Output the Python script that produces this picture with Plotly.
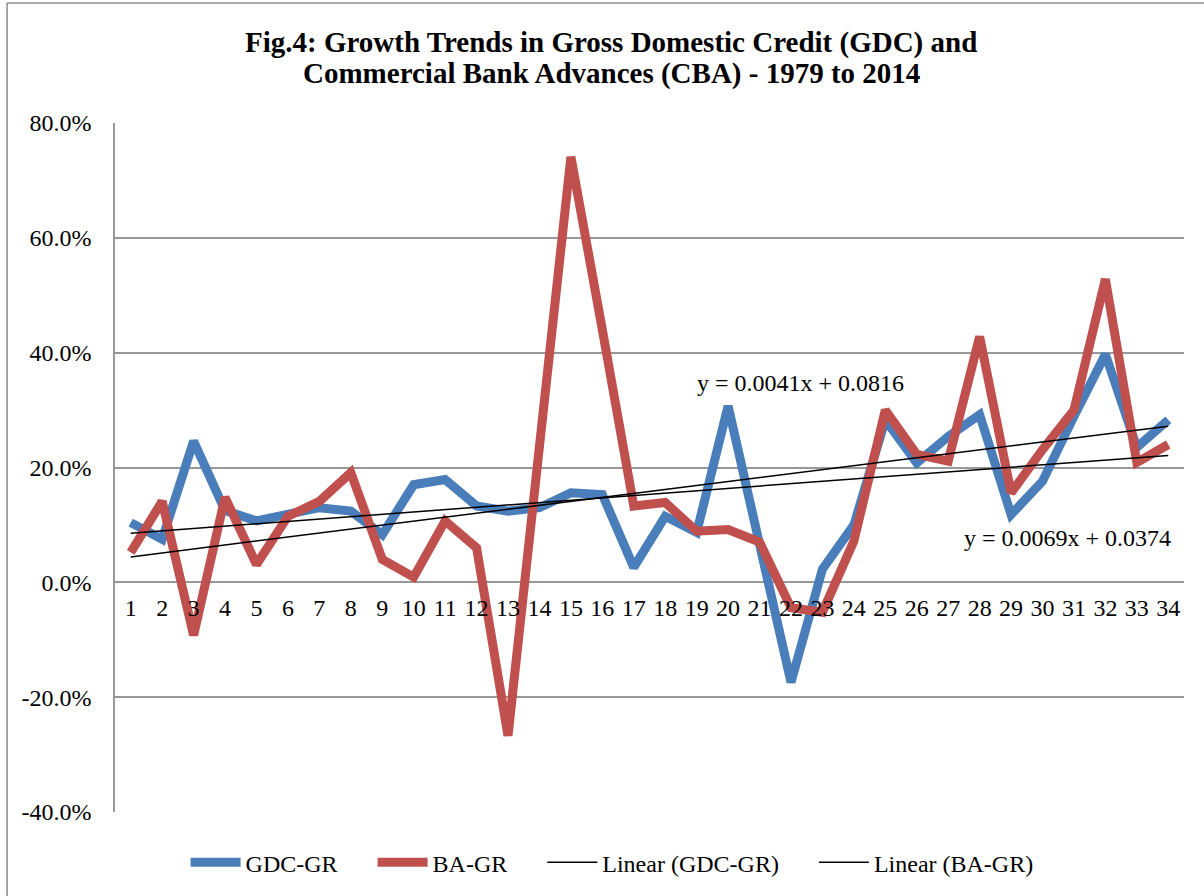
import plotly.graph_objects as go

periods = list(range(1, 35))
gdc_gr = [0.104, 0.075, 0.246, 0.125, 0.107, 0.118, 0.130, 0.124, 0.083, 0.170,
          0.179, 0.133, 0.124, 0.130, 0.156, 0.153, 0.026, 0.115, 0.087, 0.307,
          0.075, -0.174, 0.023, 0.100, 0.283, 0.208, 0.254, 0.292, 0.118, 0.176,
          0.289, 0.397, 0.235, 0.283]
ba_gr = [0.052, 0.141, -0.092, 0.148, 0.031, 0.115, 0.141, 0.191, 0.040, 0.009,
         0.107, 0.060, -0.267, 0.230, 0.741, 0.440, 0.133, 0.139, 0.089, 0.092,
         0.070, -0.044, -0.052, 0.072, 0.300, 0.223, 0.211, 0.428, 0.156, 0.231,
         0.300, 0.528, 0.209, 0.240]
trend_gdc = (0.0041, 0.0816)
trend_ba = (0.0069, 0.0374)
y_ticks = [-0.4, -0.2, 0.0, 0.2, 0.4, 0.6, 0.8]
y_tick_labels = ["-40.0%", "-20.0%", "0.0%", "20.0%", "40.0%", "60.0%", "80.0%"]
title_lines = ["Fig.4: Growth Trends in Gross Domestic Credit (GDC) and",
               "Commercial Bank Advances (CBA) - 1979 to 2014"]

FONT = "Liberation Serif, Times New Roman, serif"
BLUE = "#4A7EBB"
RED = "#C0504D"
PAD = "\u00a0" * 5

fig = go.Figure()
fig.add_trace(go.Scatter(x=periods, y=gdc_gr, mode="lines", name="GDC-GR" + PAD,
                         line=dict(color=BLUE, width=9)))
fig.add_trace(go.Scatter(x=periods, y=ba_gr, mode="lines", name="BA-GR" + PAD,
                         line=dict(color=RED, width=9)))
fig.add_trace(go.Scatter(x=periods, y=[trend_gdc[0] * p + trend_gdc[1] for p in periods],
                         mode="lines", name="Linear (GDC-GR)" + PAD,
                         line=dict(color="black", width=1.5)))
fig.add_trace(go.Scatter(x=periods, y=[trend_ba[0] * p + trend_ba[1] for p in periods],
                         mode="lines", name="Linear (BA-GR)",
                         line=dict(color="black", width=1.5)))

fig.add_annotation(x=22.29, y=0.348, xref="x", yref="y", showarrow=False,
                   text="y = 0.0041x + 0.0816", font=dict(family=FONT, size=24, color="black"))
fig.add_annotation(x=30.8, y=0.078, xref="x", yref="y", showarrow=False,
                   text="y = 0.0069x + 0.0374", font=dict(family=FONT, size=24, color="black"))

# title as two annotation lines
fig.add_annotation(x=0.464, y=1.1174, xref="paper", yref="paper", showarrow=False,
                   xanchor="center", yanchor="middle", text="<b>" + title_lines[0] + "</b>",
                   font=dict(family=FONT, size=29, color="black"))
fig.add_annotation(x=0.464, y=1.0725, xref="paper", yref="paper", showarrow=False,
                   xanchor="center", yanchor="middle", text="<b>" + title_lines[1] + "</b>",
                   font=dict(family=FONT, size=29, color="black"))

# outer chart frame (left and top edges visible)
fig.add_shape(type="line", xref="paper", yref="paper", x0=-0.101, x1=-0.101, y0=1.174, y1=-0.2,
              line=dict(color="#8C8C8C", width=1.5))
fig.add_shape(type="line", xref="paper", yref="paper", x0=-0.101, x1=1.1, y0=1.174, y1=1.174,
              line=dict(color="#8C8C8C", width=1.5))

fig.update_layout(
    width=1204, height=896,
    margin=dict(l=115, r=20, t=123, b=83),
    paper_bgcolor="white", plot_bgcolor="white",
    font=dict(family=FONT, size=24, color="black"),
    showlegend=True,
    legend=dict(orientation="h", x=0.465, xanchor="center", y=-0.072, yanchor="middle",
                font=dict(family=FONT, size=24, color="black"), itemwidth=50,
                tracegroupgap=0),
    xaxis=dict(range=[0.5, 34.5], tickvals=periods, ticktext=[str(p) for p in periods],
               showgrid=False, zeroline=False, showline=False, ticks="",
               anchor="free", position=1/3, ticklabelstandoff=9,
               tickfont=dict(family=FONT, size=24, color="black")),
    yaxis=dict(range=[-0.4, 0.8], tickvals=y_ticks, ticktext=y_tick_labels,
               showgrid=True, gridcolor="#989898", gridwidth=1.5,
               zeroline=False, showline=True, linecolor="#989898", linewidth=1.5,
               ticks="", ticklabelstandoff=17,
               tickfont=dict(family=FONT, size=24, color="black")),
)

fig.write_html("out.html")
